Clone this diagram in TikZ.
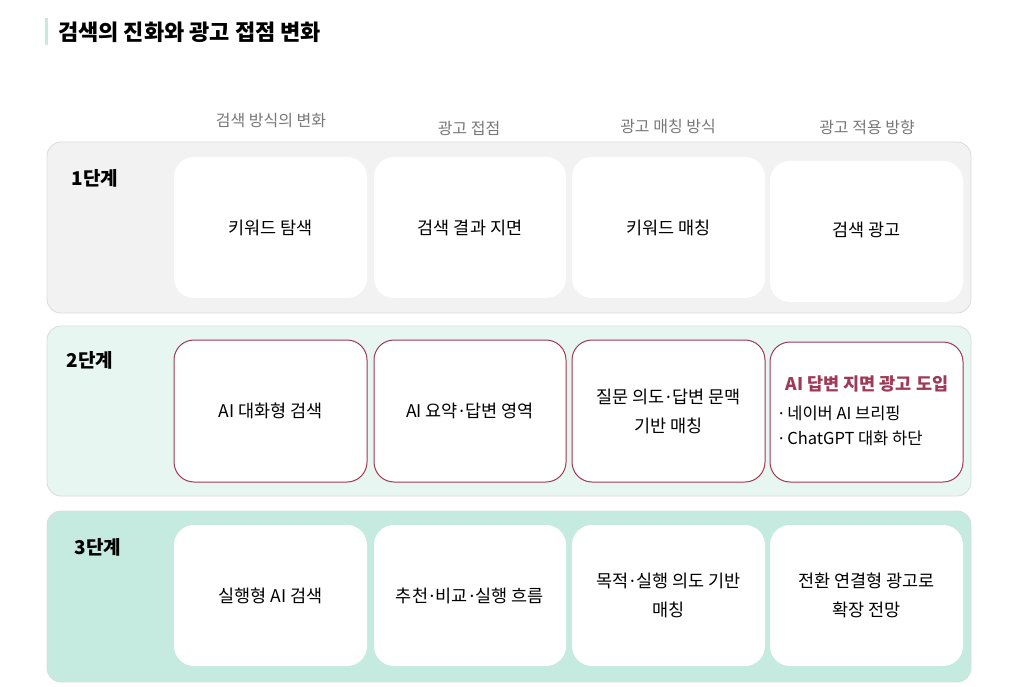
\documentclass[tikz,border=0pt]{standalone}
\usepackage{fontspec}
\setmainfont{Noto Sans CJK KR}
\newfontfamily\latinfont{Noto Sans}
\newcommand\mdot{\kern1.5pt{\latinfont ·}\kern1.5pt}
\newcommand\bdot{{\latinfont ·}}
\definecolor{maroon}{HTML}{9E3A55}
\definecolor{mint}{HTML}{C5EADF}
\definecolor{mintlight}{HTML}{E8F6F1}
\definecolor{graybg}{HTML}{F2F2F2}
\definecolor{panelline}{HTML}{D9DCDB}
\definecolor{headgray}{HTML}{777777}
\tikzset{
  panel/.style={rounded corners=14pt, draw=panelline, line width=0.8pt},
  cell/.style={rounded corners=20pt, fill=white, inner sep=0pt, align=center,
    font=\fontsize{17.5}{29}\selectfont},
  cellred/.style={cell, draw=maroon, line width=1pt},
  head/.style={font=\fontsize{16}{19}\selectfont, text=headgray},
  stage/.style={font=\fontsize{19}{22}\selectfont\bfseries},
}
\begin{document}
\begin{tikzpicture}[x=1pt,y=-1pt]
\useasboundingbox (0,0) rectangle (1022,687);
% title
\fill[mint] (45,18) rectangle (48,45);
\node[anchor=west, font=\fontsize{22}{26}\selectfont\bfseries, inner sep=0pt] (title) at (58,32) {검색의 진화와 광고 접점 변화};
% headers
\node[head] (h1) at (271,121) {검색 방식의 변화};
\node[head] (h2) at (469,128) {광고 접점};
\node[head] (h3) at (668,127) {광고 매칭 방식};
\node[head] (h4) at (867,127) {광고 적용 방향};
% panels
\draw[panel, fill=graybg] (47,142) rectangle (971,313);
\draw[panel, fill=mintlight] (47,326) rectangle (971,496);
\draw[panel, fill=mint] (47,511) rectangle (971,682);
% stage labels
\node[stage] (s1) at (95,178) {1단계};
\node[stage] (s2) at (90,360) {2단계};
\node[stage] (s3) at (98,547) {3단계};
% row 1
\node[cell, minimum width=193pt, minimum height=141pt] (r1c1) at (270.5,227.5) {키워드 탐색};
\node[cell, minimum width=192pt, minimum height=141pt] (r1c2) at (470,227.5) {검색 결과 지면};
\node[cell, minimum width=193pt, minimum height=141pt] (r1c3) at (668.5,227.5) {키워드 매칭};
\node[cell, minimum width=193pt, minimum height=141pt] (r1c4) at (866.5,231.5) {\raisebox{4pt}{검색 광고}};
% row 2
\node[cellred, minimum width=193pt, minimum height=142pt] (r2c1) at (270.5,411) {AI 대화형 검색};
\node[cellred, minimum width=192pt, minimum height=142pt] (r2c2) at (470,411) {AI 요약\mdot 답변 영역};
\node[cellred, minimum width=193pt, minimum height=142pt] (r2c3) at (668.5,411) {질문 의도\mdot 답변 문맥\\기반 매칭};
\node[cellred, minimum width=193pt, minimum height=140pt] (r2c4) at (866.5,412) {};
\node[font=\fontsize{17.5}{20}\selectfont\bfseries, text=maroon, inner sep=0pt] (r2c4t) at (867,383.5) {AI 답변 지면 광고 도입};
\node[anchor=north west, align=left, inner sep=0pt, font=\fontsize{16.5}{25}\selectfont] (r2c4b) at (779,406) {\bdot\ 네이버 AI 브리핑\\\bdot\ ChatGPT 대화 하단};
% row 3
\node[cell, minimum width=193pt, minimum height=141pt] (r3c1) at (270.5,595.5) {실행형 AI 검색};
\node[cell, minimum width=192pt, minimum height=141pt] (r3c2) at (470,595.5) {추천\mdot 비교\mdot 실행 흐름};
\node[cell, minimum width=193pt, minimum height=141pt] (r3c3) at (668.5,595.5) {목적\mdot 실행 의도 기반\\매칭};
\node[cell, minimum width=193pt, minimum height=141pt] (r3c4) at (866.5,595.5) {전환 연결형 광고로\\확장 전망};
\end{tikzpicture}
\end{document}
